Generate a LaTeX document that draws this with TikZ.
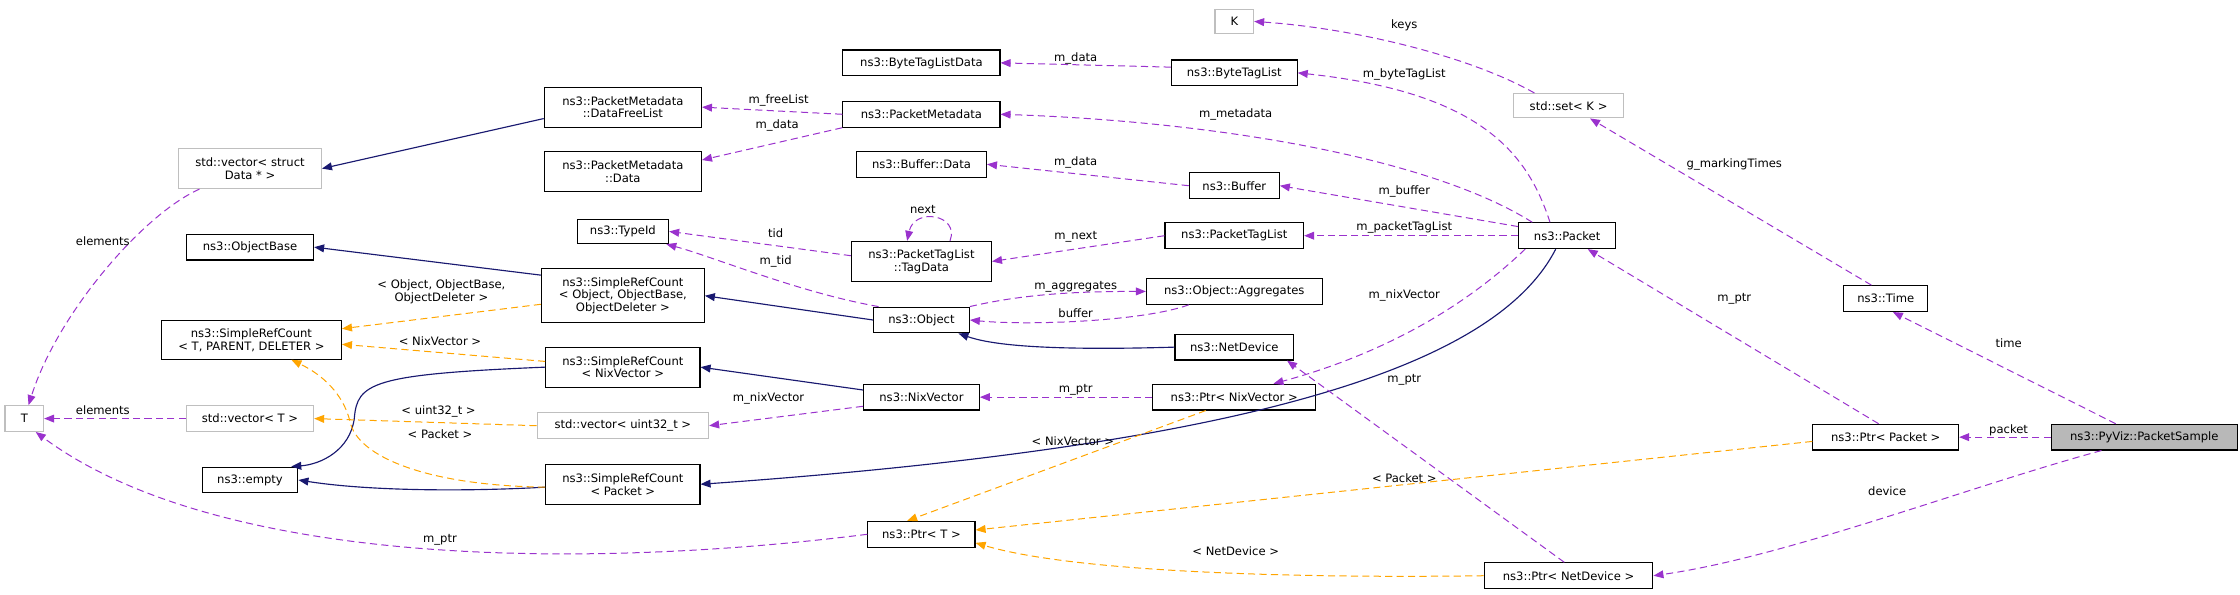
\documentclass[tikz,border=0pt]{standalone}
\usepackage{fontspec}
\setmainfont{DejaVu Sans}
\usetikzlibrary{arrows.meta,calc}
\definecolor{mpurple}{RGB}{154,50,205}
\definecolor{mnavy}{RGB}{25,25,112}
\definecolor{morange}{RGB}{255,165,0}
\begin{document}
\begin{tikzpicture}[x=1pt,y=-1pt,
  font=\fontsize{8.1}{9}\selectfont,
  box/.style={draw=black,line width=0.8pt,fill=white,inner sep=0pt,minimum height=18pt,align=center},
  gbox/.style={box,draw=black!25},
  tip/.style={-{Triangle[length=7pt,width=5.5pt]}},
  pe/.style={tip,draw=mpurple,color=mpurple,dash pattern=on 5pt off 3pt,line width=0.7pt},
  ne/.style={tip,draw=mnavy,color=mnavy,line width=0.8pt},
  oe/.style={tip,draw=morange,color=morange,dash pattern=on 5pt off 3pt,line width=0.7pt},
  lbl/.style={inner sep=0pt,align=center,text=black}]
\useasboundingbox (0,0) rectangle (1568,416.5);
% nodes
\node[gbox,minimum width=27pt,minimum height=17pt] (K) at (864,15) {K};
\node[box,minimum width=110pt] (BTLD) at (645,44) {ns3::ByteTagListData};
\node[box,minimum width=88pt] (BTL) at (864,51) {ns3::ByteTagList};
\node[gbox,minimum width=77pt,minimum height=17pt] (setK) at (1098,74) {std::set< K >};
\node[box,minimum width=110pt,minimum height=28pt] (DFL) at (436,75) {ns3::PacketMetadata\\::DataFreeList};
\node[box,minimum width=110pt] (PM) at (645,80) {ns3::PacketMetadata};
\node[gbox,minimum width=100pt,minimum height=28pt] (vecD) at (175,118) {std::vector< struct\\Data * >};
\node[box,minimum width=110pt,minimum height=28pt] (PMD) at (436,120) {ns3::PacketMetadata\\::Data};
\node[box,minimum width=91pt] (BD) at (645,115) {ns3::Buffer::Data};
\node[box,minimum width=63pt] (Buf) at (864,130) {ns3::Buffer};
\node[box,minimum width=64pt,minimum height=17pt] (TID) at (436,162) {ns3::TypeId};
\node[box,minimum width=98pt,minimum height=28pt] (TD) at (645,183) {ns3::PacketTagList\\::TagData};
\node[box,minimum width=97pt] (PTL) at (864,165) {ns3::PacketTagList};
\node[box,minimum width=68pt] (Pkt) at (1097,165) {ns3::Packet};
\node[box,minimum width=89pt] (OB) at (175,173) {ns3::ObjectBase};
\node[box,minimum width=114pt,minimum height=38pt] (SRCO) at (436,207) {ns3::SimpleRefCount\\< Object, ObjectBase,\\ObjectDeleter >};
\node[box,minimum width=123pt] (Agg) at (864,204) {ns3::Object::Aggregates};
\node[box,minimum width=67pt] (Obj) at (645,224) {ns3::Object};
\node[box,minimum width=59pt] (Time) at (1320,209) {ns3::Time};
\node[box,minimum width=126pt,minimum height=27pt] (SRCT) at (176,238) {ns3::SimpleRefCount\\< T, PARENT, DELETER >};
\node[box,minimum width=83pt] (ND) at (864,243) {ns3::NetDevice};
\node[box,minimum width=108pt,minimum height=28pt] (SRCN) at (436,257) {ns3::SimpleRefCount\\< NixVector >};
\node[box,minimum width=81pt] (NV) at (645,278) {ns3::NixVector};
\node[box,minimum width=114pt] (PNV) at (864,278) {ns3::Ptr< NixVector >};
\node[gbox,minimum width=27pt] (T) at (17,293) {T};
\node[gbox,minimum width=89pt] (vecT) at (175,293) {std::vector< T >};
\node[gbox,minimum width=120pt] (vecU) at (436,298) {std::vector< uint32\_t >};
\node[box,minimum width=102pt] (PP) at (1320,306) {ns3::Ptr< Packet >};
\node[box,minimum width=130pt,fill=black!28] (PS) at (1501,306) {ns3::PyViz::PacketSample};
\node[box,minimum width=67pt] (emp) at (175,336) {ns3::empty};
\node[box,minimum width=108pt,minimum height=28pt] (SRCP) at (436,339) {ns3::SimpleRefCount\\< Packet >};
\node[box,minimum width=75pt] (PT) at (645,374) {ns3::Ptr< T >};
\node[box,minimum width=118pt] (PND) at (1098,403) {ns3::Ptr< NetDevice >};
% navy inheritance
\draw[ne] ($(DFL.west)+(0,8)$) -- (vecD.east);
\draw[ne] ($(SRCO.north west)+(0,5)$) -- (OB.east);
\draw[ne] (Obj.west) -- (SRCO.east);
\draw[ne] (ND.west) .. controls (720,246) and (690,240) .. ($(Obj.south east)+(-8,0)$);
\draw[ne] ($(NV.west)+(0,-5)$) -- (SRCN.east);
\draw[ne] (SRCN.west) .. controls (260,262) and (250,268) .. (248,293) .. controls (245,315) and (225,325) .. ($(emp.north east)+(-5,0)$);
\draw[ne] ($(SRCP.west)+(0,2)$) .. controls (330,344) and (260,344) .. (emp.east);
\draw[ne] ($(Pkt.south)+(-8,0)$) .. controls (1050,250) and (900,310) .. (SRCP.east);
% orange template
\draw[oe] ($(SRCO.west)+(0,6)$) -- ($(SRCT.north east)+(0,6)$);
\draw[oe] ($(SRCN.west)+(0,-4)$) -- ($(SRCT.east)+(0,3)$);
\draw[oe] ($(SRCP.west)+(0,2)$) .. controls (300,340) and (250,320) .. (245,295) .. controls (240,275) and (225,262) .. ($(SRCT.south)+(28,0)$);
\draw[oe] (vecU.west) -- (vecT.east);
\draw[oe] ($(PNV.south)+(-20,0)$) -- ($(PT.north)+(-10,0)$);
\draw[oe] ($(PP.west)+(0,3)$) -- ($(PT.east)+(0,-3)$);
\draw[oe] (PND.west) .. controls (900,405) and (750,400) .. ($(PT.east)+(0,6)$);
\node[lbl] (l1) at (309,204) {< Object, ObjectBase,\\ObjectDeleter >};
\node[lbl] (l2) at (308,239) {< NixVector >};
\node[lbl] (l3) at (307,288) {< uint32\_t >};
\node[lbl] (l4) at (308,304) {< Packet >};
\node[lbl] (l5) at (751,309) {< NixVector >};
\node[lbl] (l6) at (983,335) {< Packet >};
\node[lbl] (l7) at (865,386) {< NetDevice >};
% purple members
\draw[pe] ($(setK.north west)+(15,0)$) .. controls (1030,40) and (950,20) .. (K.east);
\draw[pe] ($(BTL.west)+(0,-4)$) -- (BTLD.east);
\draw[pe] ($(Pkt.north)+(-12,0)$) .. controls (1070,110) and (1040,65) .. (BTL.east);
\draw[pe] (PM.west) -- (DFL.east);
\draw[pe] (PM.south west) -- ($(PMD.east)+(0,-8)$);
\draw[pe] ($(Pkt.north west)+(10,0)$) .. controls (1000,110) and (850,85) .. (PM.east);
\draw[pe] (Buf.west) -- (BD.east);
\draw[pe] ($(Pkt.north west)+(0,3)$) -- (Buf.east);
\draw[pe] (Pkt.west) -- (PTL.east);
\draw[pe] (PTL.west) -- (TD.east);
\draw[pe] ($(TD.north)+(20,0)$) .. controls (672,150) and (640,145) .. ($(TD.north)+(-10,0)$);
\draw[pe] ($(TD.west)+(0,-4)$) -- (TID.east);
\draw[pe] ($(Obj.north)+(-30,0)$) .. controls (560,205) and (500,180) .. ($(TID.south east)+(-2,0)$);
\draw[pe] (Obj.north east) .. controls (720,205) and (760,204) .. (Agg.west);
\draw[pe] ($(Agg.south west)+(30,0)$) .. controls (800,225) and (720,228) .. (Obj.east);
\draw[pe] ($(Pkt.south west)+(5,0)$) .. controls (1020,220) and (960,250) .. ($(PNV.north east)+(-30,0)$);
\draw[pe] (PNV.west) -- (NV.east);
\draw[pe] ($(NV.south west)+(0,-3)$) -- (vecU.east);
\draw[pe] ($(vecD.south west)+(15,0)$) .. controls (100,150) and (40,220) .. ($(T.north)+(3,0)$);
\draw[pe] (vecT.west) -- (T.east);
\draw[pe] (PT.west) .. controls (400,400) and (150,395) .. ($(T.south)+(8,0)$);
\draw[pe] ($(PND.north)+(-3,0)$) -- ($(ND.south east)+(-5,0)$);
\draw[pe] ($(PP.north)+(-5,0)$) -- ($(Pkt.south east)+(-20,0)$);
\draw[pe] ($(Time.north)+(-10,0)$) -- ($(setK.south)+(15,0)$);
\draw[pe] ($(PS.north)+(-20,0)$) -- ($(Time.south)+(5,0)$);
\draw[pe] (PS.west) -- (PP.east);
\draw[pe] ($(PS.south)+(-30,0)$) .. controls (1380,340) and (1250,390) .. (PND.east);
\node[lbl] (m1) at (983,18) {keys};
\node[lbl] (m2) at (753,41) {m\_data};
\node[lbl] (m3) at (983,52) {m\_byteTagList};
\node[lbl] (m4) at (545,70) {m\_freeList};
\node[lbl] (m5) at (544,88) {m\_data};
\node[lbl] (m6) at (865,80) {m\_metadata};
\node[lbl] (m7) at (753,114) {m\_data};
\node[lbl] (m8) at (983,134) {m\_buffer};
\node[lbl] (m9) at (646,147) {next};
\node[lbl] (m10) at (543,163) {tid};
\node[lbl] (m11) at (753,166) {m\_next};
\node[lbl] (m12) at (983,159) {m\_packetTagList};
\node[lbl] (m13) at (543,183) {m\_tid};
\node[lbl] (m14) at (753,201) {m\_aggregates};
\node[lbl] (m15) at (753,219) {buffer};
\node[lbl] (m16) at (983,207) {m\_nixVector};
\node[lbl] (m17) at (538,279) {m\_nixVector};
\node[lbl] (m18) at (753,273) {m\_ptr};
\node[lbl] (m19) at (983,266) {m\_ptr};
\node[lbl] (m20) at (72,169) {elements};
\node[lbl] (m21) at (72,287) {elements};
\node[lbl] (m22) at (308,378) {m\_ptr};
\node[lbl] (m23) at (1214,115) {g\_markingTimes};
\node[lbl] (m24) at (1214,209) {m\_ptr};
\node[lbl] (m25) at (1406,240) {time};
\node[lbl] (m26) at (1406,301) {packet};
\node[lbl] (m27) at (1321,344) {device};
\end{tikzpicture}
\end{document}
